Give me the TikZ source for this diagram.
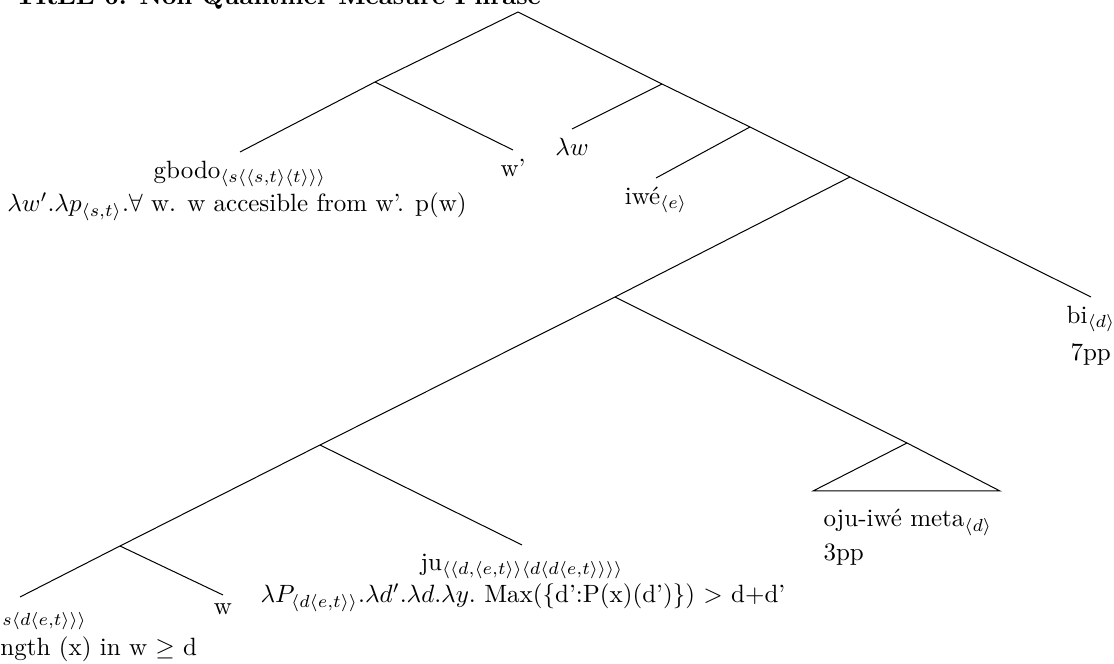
\documentclass[tikz,border=0pt]{standalone}
\begin{document}
\begin{tikzpicture}[x=0.4pt,y=-0.4pt,
  every path/.style={line width=0.4pt},
  leaf/.style={anchor=north, inner sep=3.33pt},
  gloss/.style={inner sep=0pt, anchor=base west},
  glossc/.style={inner sep=0pt, anchor=base}]
\useasboundingbox (0,0) rectangle (1114,664);

% heading
\node[gloss, font=\bfseries] (title) at (15,4.5) {TREE 6: Non-Quantifier Measure Phrase};

% branching points
\coordinate (R) at (518,12);
\coordinate (A) at (375,82);
\coordinate (X) at (662,84);
\coordinate (Y) at (750,127);
\coordinate (Z) at (850,177);
\coordinate (B) at (615,297);
\coordinate (C) at (320,445);
\coordinate (F) at (120,546);
\coordinate (D) at (907,443);
\coordinate (T1) at (813,491);
\coordinate (T2) at (1000,491);
\coordinate (lend) at (20,597);

% leaves
\node[leaf] (gbodo) at (240,152) {gbodo$_{\langle s\langle\langle s,t\rangle\langle t\rangle\rangle\rangle}$};
\node[glossc] (gbodosem) at (237,212) {$\lambda w'.\lambda p_{\langle s,t\rangle}.\forall$ w. w accesible from w'. p(w)};
\node[leaf] (wp) at (513,150) {w'};
\node[leaf] (lw) at (572,129) {$\lambda w$};
\node[leaf] (iwe) at (656,178) {iwé$_{\langle e\rangle}$};
\node[leaf] (bi) at (1091,297) {bi$_{\langle d\rangle}$};
\node[gloss] (bisem) at (1070,361) {7pp};
\node[gloss] (oju) at (823,527) {oju-iwé meta$_{\langle d\rangle}$};
\node[gloss] (ojusem) at (823,561) {3pp};
\node[leaf] (ju) at (522,545) {ju$_{\langle\langle d,\langle e,t\rangle\rangle\langle d\langle d\langle e,t\rangle\rangle\rangle\rangle}$};
\node[glossc] (jusem) at (523,603) {$\lambda P_{\langle d\langle e,t\rangle\rangle}.\lambda d'.\lambda d.\lambda y.$ Max(\{d':P(x)(d')\}) $>$ d+d'};
\node[leaf] (w) at (223,595) {w};
\node[gloss] (lsub) at (2,621) {$_{s\langle d\langle e,t\rangle\rangle\rangle}$};
\node[gloss] (lsem) at (0,656) {ngth (x) in w $\geq$ d};

% branches
\draw (R) -- (A);
\draw (R) -- (X);
\draw (A) -- (gbodo.north);
\draw (A) -- (wp.north);
\draw (X) -- (lw.north);
\draw (X) -- (Y);
\draw (Y) -- (iwe.north);
\draw (Y) -- (Z);
\draw (Z) -- (B);
\draw (Z) -- (bi.north);
\draw (B) -- (C);
\draw (B) -- (D);
\draw (D) -- (T1) -- (T2) -- cycle;
\draw (C) -- (F);
\draw (C) -- (ju.north);
\draw (F) -- (lend);
\draw (F) -- (w.north);
\end{tikzpicture}
\end{document}
